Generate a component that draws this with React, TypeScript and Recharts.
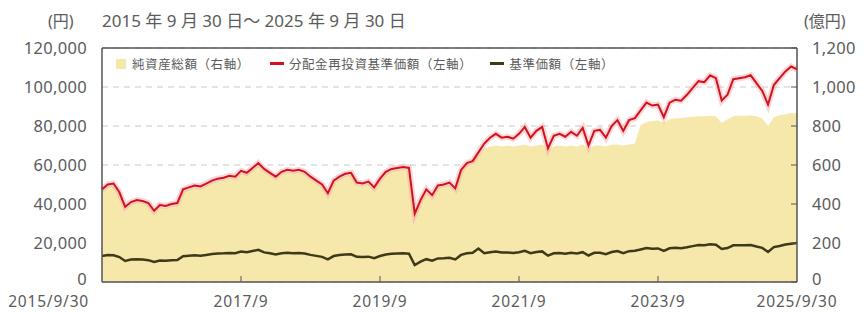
import { ComposedChart, Area, Line, XAxis, YAxis, CartesianGrid, ReferenceLine } from "recharts";

// month index 0 = 2015/9/30 ... 120 = 2025/9/30
const navReinvest = [
  47500, 50000, 50500, 46000, 38500, 41000, 42000, 41500, 40500, 36500, 39500, 39000,
  40000, 40500, 47500, 48500, 49500, 49000, 50500, 52000, 53000, 53500, 54500, 54000,
  57000, 56000, 58500, 61000, 58000, 56000, 54000, 56500, 57500, 57000, 57500, 56500,
  54000, 52000, 50000, 45500, 52000, 54000, 55500, 56000, 51000, 50500, 51500, 48500,
  53000, 56500, 58000, 58500, 59000, 58500, 35000, 42000, 47500, 44500, 49500, 50000,
  51000, 48000, 57500, 61000, 62000, 66500, 71000, 74000, 76000, 74000, 74500, 73500,
  76000, 79500, 74000, 77500, 79500, 68500, 75000, 76000, 74500, 77000, 75000, 79000,
  70000, 77500, 78000, 74000, 80000, 83000, 77500, 83000, 84000, 88000, 92000, 90500,
  91000, 84500, 92000, 93500, 93000, 96000, 99500, 103000, 102500, 106000, 104500, 93000,
  96000, 104000, 104500, 105000, 106000, 102000, 98000, 91000, 101000, 104500, 108000, 110500,
  109000,
];

const nav = [
  13300, 13800, 13700, 12800, 10800, 11500, 11700, 11500, 11200, 10300, 11000, 10900,
  11100, 11300, 13200, 13500, 13700, 13500, 13900, 14300, 14600, 14700, 14900, 14800,
  15600, 15300, 15900, 16500, 15200, 14700, 14100, 14700, 15000, 14800, 14900, 14600,
  13900, 13400, 12900, 11600, 13300, 13800, 14100, 14200, 12900, 12800, 13000, 12200,
  13300, 14100, 14500, 14600, 14700, 14500, 8700, 10400, 11700, 10900, 12100, 12200,
  12400, 11600, 13900, 14700, 15000, 17200, 14800, 15300, 15600, 15100, 15100, 14900,
  15300, 16000, 14800, 15400, 15700, 13500, 14700, 14900, 14500, 15000, 14600, 15300,
  13600, 15000, 15000, 14300, 15400, 15900, 14800, 15800, 16000, 16700, 17400, 17100,
  17200, 15900, 17300, 17500, 17300, 17800, 18400, 19000, 18800, 19400, 19100, 16900,
  17400, 18800, 18800, 18900, 19000, 18200, 17500, 15400, 17900, 18500, 19200, 19600,
  20000,
];

// 億円
const netAssets = [
  465, 490, 495, 450, 375, 400, 410, 405, 395, 355, 385, 380,
  390, 395, 465, 475, 485, 480, 495, 510, 520, 525, 535, 530,
  560, 550, 575, 600, 570, 550, 530, 555, 565, 560, 565, 555,
  530, 510, 490, 445, 510, 530, 545, 550, 500, 495, 505, 475,
  520, 555, 570, 575, 580, 575, 340, 410, 465, 435, 485, 490,
  500, 470, 565, 600, 610, 650, 685, 695, 700, 695, 700, 695,
  700, 705, 695, 700, 705, 680, 695, 700, 695, 700, 695, 705,
  685, 700, 700, 695, 705, 705, 700, 705, 710, 805, 820, 825,
  830, 815, 835, 840, 840, 845, 848, 850, 850, 852, 850, 815,
  835, 850, 852, 853, 855, 850, 840, 800, 845, 855, 860, 865,
  865,
];

const xTicks = [0, 24, 48, 72, 96, 120];
const xTickLabels = ["2015/9/30", "2017/9", "2019/9", "2021/9", "2023/9", "2025/9/30"];
const leftTicks = [0, 20000, 40000, 60000, 80000, 100000, 120000];
const rightTicks = [0, 200, 400, 600, 800, 1000, 1200];
const legendLabels = ["純資産総額（右軸）", "分配金再投資基準価額（左軸）", "基準価額（左軸）"];
const titleText = "2015 年 9 月 30 日～ 2025 年 9 月 30 日";

const data = navReinvest.map((v, i) => ({ i, navReinvest: v, nav: nav[i], netAssets: netAssets[i] }));

const W = 866;
const H = 312;
const PLOT_LEFT = 102;
const PLOT_RIGHT = 797;
const PLOT_TOP = 48;
const PLOT_BOTTOM = 282;
const FONT = '"Noto Sans", "Noto Sans CJK JP", sans-serif';
const TEXT = "#5b5b5b";
const FRAME = "#555";
const AREA = "#f6e8ab";
const RED = "#d3121d";
const DARK = "#3d3a17";

const fmt = (v: number) => v.toLocaleString("en-US");

const LeftTick = ({ y, payload }: any) => (
  <text
    x={PLOT_LEFT - 15}
    y={payload.value === 0 ? y - 3 : y}
    dy="0.35em"
    textAnchor="end"
    fill={TEXT}
    fontSize={16.5}
    fontFamily={FONT}
    letterSpacing={0.3}
  >
    {fmt(payload.value)}
  </text>
);

const RightTick = ({ y, payload }: any) => (
  <g>
    <line x1={PLOT_RIGHT - 6} x2={PLOT_RIGHT} y1={y} y2={y} stroke={FRAME} />
    <text
      x={PLOT_RIGHT + 15}
      y={payload.value === 0 ? y - 3 : y}
      dy="0.35em"
      textAnchor="start"
      fill={TEXT}
      fontSize={16.5}
      fontFamily={FONT}
      letterSpacing={0.3}
    >
      {fmt(payload.value)}
    </text>
  </g>
);

const XTick = ({ x, payload, index }: any) => {
  const first = index === 0;
  const inner = index > 0 && index < xTicks.length - 1;
  return (
    <g>
      {inner && <line x1={x} x2={x} y1={PLOT_BOTTOM} y2={PLOT_BOTTOM - 6} stroke={FRAME} />}
      <text
        x={first ? x - 13 : x}
        y={PLOT_BOTTOM + 25}
        textAnchor={first ? "end" : "middle"}
        fill={TEXT}
        fontSize={15.5}
        fontFamily={FONT}
        letterSpacing={0.8}
      >
        {xTickLabels[xTicks.indexOf(payload.value)]}
      </text>
    </g>
  );
};

export default function App() {
  return (
    <div style={{ position: "absolute", left: 0, top: 0, width: W, height: H, background: "#fff", fontFamily: FONT }}>
      <div style={{ position: "absolute", left: 48, top: 8, fontSize: 16, color: TEXT }}>(円)</div>
      <div style={{ position: "absolute", left: 102, top: 7, fontSize: 17, color: TEXT }}>{titleText}</div>
      <div style={{ position: "absolute", left: 804, top: 8, fontSize: 16, color: TEXT }}>(億円)</div>
      <ComposedChart width={W} height={H} data={data} margin={{ top: PLOT_TOP, right: 0, bottom: 0, left: 0 }}>
        <CartesianGrid yAxisId="left" vertical={false} stroke="#c9c9c9" strokeDasharray="6 5" />
        <XAxis
          dataKey="i"
          type="number"
          domain={[0, 120]}
          ticks={xTicks}
          height={H - PLOT_BOTTOM}
          tick={<XTick />}
          tickLine={false}
          axisLine={{ stroke: FRAME, strokeWidth: 1.5 }}
          interval={0}
        />
        <YAxis
          yAxisId="left"
          domain={[0, 120000]}
          ticks={leftTicks}
          width={PLOT_LEFT}
          tick={<LeftTick />}
          tickLine={false}
          axisLine={{ stroke: FRAME, strokeWidth: 1.5 }}
          interval={0}
        />
        <YAxis
          yAxisId="right"
          orientation="right"
          domain={[0, 1200]}
          ticks={rightTicks}
          width={W - PLOT_RIGHT}
          tick={<RightTick />}
          tickLine={false}
          axisLine={{ stroke: FRAME, strokeWidth: 1.5 }}
          interval={0}
        />
        <Area
          yAxisId="right"
          dataKey="netAssets"
          type="linear"
          fill={AREA}
          fillOpacity={1}
          stroke="none"
          isAnimationActive={false}
        />
        <Line yAxisId="left" dataKey="navReinvest" type="linear" stroke="#f2a3a8" strokeOpacity={0.45} strokeWidth={6} dot={false} isAnimationActive={false} />
        <Line yAxisId="left" dataKey="navReinvest" type="linear" stroke={RED} strokeWidth={2} dot={false} isAnimationActive={false} />
        <Line yAxisId="left" dataKey="nav" type="linear" stroke={DARK} strokeWidth={2.5} dot={false} isAnimationActive={false} />
        <ReferenceLine yAxisId="left" y={120000} stroke={FRAME} strokeWidth={1.5} />
      </ComposedChart>
      <div
        style={{
          position: "absolute",
          left: 116,
          top: 54,
          display: "flex",
          alignItems: "center",
          fontSize: 12.5,
          color: TEXT,
          letterSpacing: 0.6,
          whiteSpace: "nowrap",
        }}
      >
        <span style={{ width: 10, height: 10, background: AREA, display: "inline-block", marginRight: 6 }} />
        <span style={{ marginRight: 20 }}>{legendLabels[0]}</span>
        <span style={{ width: 14, height: 3, background: RED, display: "inline-block", marginRight: 5 }} />
        <span style={{ marginRight: 18 }}>{legendLabels[1]}</span>
        <span style={{ width: 14, height: 3, background: DARK, display: "inline-block", marginRight: 5 }} />
        <span>{legendLabels[2]}</span>
      </div>
    </div>
  );
}
